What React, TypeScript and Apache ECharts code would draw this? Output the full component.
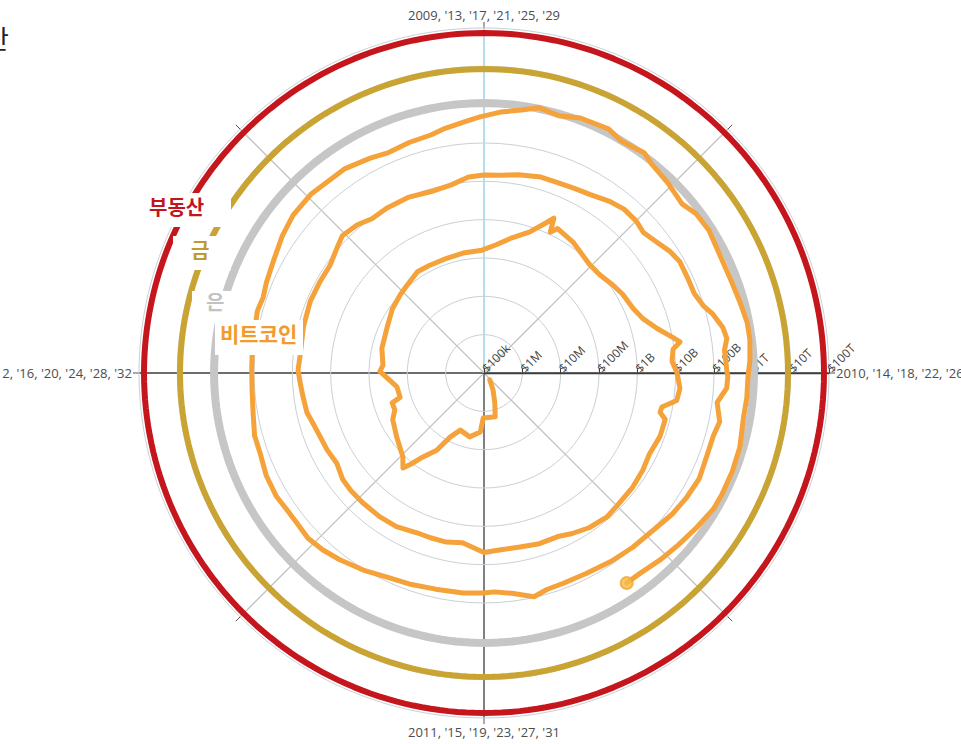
import React, { useEffect, useRef } from "react";
import * as echarts from "echarts";

// Angle axis: one full turn = 4 years (top = 2009, '13, ...)
const angleTickLabels = [
  "2009, '13, '17, '21, '25, '29",
  "2010, '14, '18, '22, '26, '30",
  "2011, '15, '19, '23, '27, '31",
  "2012, '16, '20, '24, '28, '32",
];
const radiusTickLabels = ["$100k", "$1M", "$10M", "$100M", "$1B", "$10B", "$100B", "$1T", "$10T", "$100T"];

// Reference asset market caps (USD)
const ringNames = ["부동산", "금", "은"];
const ringValues = [7.4e13, 8.5e12, 1.1e12];
const ringColors = ["#C4161C", "#C9A433", "#C6C6C6"];
const ringWidths = [6, 6, 8];

// Bitcoin market cap (USD) by decimal year
const btcYears = [
  2010.55, 2010.69, 2010.78, 2010.84, 2011.01, 2011.04, 2011.14, 2011.25, 2011.31, 2011.35,
  2011.4, 2011.43, 2011.45, 2011.49, 2011.6, 2011.7, 2011.75, 2011.8, 2011.82, 2011.9,
  2011.95, 2012.01, 2012.05, 2012.15, 2012.28, 2012.39, 2012.48, 2012.54, 2012.63, 2012.7,
  2012.8, 2012.89, 2012.99, 2013.06, 2013.13, 2013.2, 2013.25, 2013.27, 2013.28, 2013.3,
  2013.38, 2013.49, 2013.55, 2013.62, 2013.67, 2013.74, 2013.79, 2013.84, 2013.88, 2013.9,
  2013.92, 2013.96, 2014.0, 2014.05, 2014.09, 2014.12, 2014.14, 2014.16, 2014.22, 2014.29,
  2014.35, 2014.42, 2014.49, 2014.55, 2014.62, 2014.68, 2014.73, 2014.8, 2014.87, 2014.94,
  2015.0, 2015.08, 2015.14, 2015.2, 2015.25, 2015.33, 2015.4, 2015.48, 2015.54, 2015.59,
  2015.65, 2015.71, 2015.82, 2015.86, 2015.92, 2015.97, 2016.01, 2016.06, 2016.16, 2016.25,
  2016.32, 2016.39, 2016.45, 2016.49, 2016.55, 2016.6, 2016.66, 2016.74, 2016.82, 2016.89,
  2016.95, 2017.0, 2017.05, 2017.11, 2017.18, 2017.23, 2017.29, 2017.34, 2017.4, 2017.45,
  2017.5, 2017.54, 2017.59, 2017.63, 2017.67, 2017.72, 2017.77, 2017.81, 2017.84, 2017.88,
  2017.91, 2017.94, 2018.0, 2018.01, 2018.04, 2018.08, 2018.13, 2018.17, 2018.23, 2018.29,
  2018.35, 2018.41, 2018.48, 2018.55, 2018.62, 2018.7, 2018.77, 2018.82, 2018.86, 2018.92,
  2018.97, 2019.0, 2019.06, 2019.14, 2019.21, 2019.28, 2019.35, 2019.42, 2019.47, 2019.52,
  2019.57, 2019.61, 2019.66, 2019.72, 2019.78, 2019.83, 2019.89, 2019.95, 2020.01, 2020.07,
  2020.17, 2020.21, 2020.25, 2020.31, 2020.38, 2020.44, 2020.51, 2020.56, 2020.62, 2020.69,
  2020.74, 2020.8, 2020.86, 2020.9, 2020.95, 2020.99, 2021.04, 2021.09, 2021.13, 2021.18,
  2021.23, 2021.3, 2021.34, 2021.4, 2021.43, 2021.49, 2021.55, 2021.59, 2021.64, 2021.7,
  2021.77, 2021.83, 2021.88, 2021.92, 2021.97, 2022.01, 2022.06, 2022.11, 2022.18, 2022.24,
  2022.3, 2022.34, 2022.4, 2022.46, 2022.52, 2022.58, 2022.62,
];
const btcCaps = [
  1.7e5, 3.2e5, 6.8e5, 1.5e6, 1.5e6, 3.5e6, 5.1e6, 4.1e6, 7.8e6, 2.3e7,
  5.1e7, 1.1e8, 1.8e8, 1.1e8, 6.6e7, 4.7e7, 3.3e7, 3.3e7, 1.9e7, 2.0e7,
  2.9e7, 5.2e7, 4.4e7, 5.5e7, 6.2e7, 8.3e7, 9.8e7, 1.1e8, 1.45e8, 1.4e8,
  1.4e8, 1.5e8, 1.6e8, 2.3e8, 4.0e8, 7.4e8, 1.75e9, 2.7e9, 1.15e9, 1.7e9,
  1.35e9, 8.9e8, 9.1e8, 1.18e9, 1.44e9, 1.74e9, 2.4e9, 4.6e9, 1.0e10, 1.5e10,
  9.4e9, 8.2e9, 1.09e10, 1.34e10, 1.2e10, 5.3e9, 5.1e9, 7.6e9, 7.6e9, 6.4e9,
  7.2e9, 7.8e9, 7.9e9, 8.7e9, 7.6e9, 6.0e9, 4.8e9, 4.8e9, 4.3e9, 4.3e9,
  4.8e9, 2.9e9, 3.3e9, 3.3e9, 3.3e9, 4.1e9, 4.3e9, 4.3e9, 4.3e9, 4.1e9,
  3.2e9, 3.6e9, 4.5e9, 5.4e9, 5.8e9, 6.4e9, 7.1e9, 6.6e9, 7.3e9, 8.0e9,
  7.9e9, 8.0e9, 1.09e10, 1.4e10, 1.22e10, 9.4e9, 9.8e9, 9.8e9, 8.5e9, 9.6e9,
  1.34e10, 1.47e10, 1.5e10, 1.78e10, 2.1e10, 2.1e10, 2.3e10, 2.6e10, 3.5e10, 4.2e10,
  4.1e10, 3.5e10, 4.6e10, 6.2e10, 7.5e10, 7.3e10, 7.3e10, 9.6e10, 1.46e11, 2.2e11,
  2.5e11, 2.0e11, 2.2e11, 2.3e11, 2.2e11, 1.35e11, 1.9e11, 1.6e11, 1.6e11, 1.8e11,
  1.6e11, 1.37e11, 1.05e11, 9.5e10, 8.5e10, 7.4e10, 7.3e10, 7.6e10, 9.6e10, 6.2e10,
  5.2e10, 5.5e10, 5.8e10, 6.0e10, 6.8e10, 7.8e10, 1.07e11, 1.44e11, 1.75e11, 1.98e11,
  1.8e11, 1.8e11, 2.0e11, 1.9e11, 1.6e11, 1.6e11, 1.3e11, 1.17e11, 1.15e11, 1.2e11,
  1.35e11, 1.23e11, 1.4e11, 1.66e11, 2.3e11, 2.9e11, 3.1e11, 2.8e11, 2.8e11, 2.2e11,
  1.85e11, 2.1e11, 2.3e11, 2.9e11, 3.7e11, 4.8e11, 6.6e11, 8.5e11, 1.17e12, 9.8e11,
  1.29e12, 1.41e12, 1.08e12, 1.27e12, 9.8e11, 7.9e11, 6.2e11, 8.3e11, 8.9e11, 7.6e11,
  7.6e11, 8.5e11, 9.8e11, 9.8e11, 8.8e11, 7.7e11, 7.7e11, 7.4e11, 8.9e11, 9.3e11,
  9.3e11, 9.1e11, 7.2e11, 5.9e11, 5.0e11, 4.2e11, 4.2e11,
];

const BASE_YEAR = 2009;
// angle axis runs 1..5 starting at east (=2010), clockwise
const toAngle = (year: number) => {
  const a = (((year - BASE_YEAR) % 4) + 4) % 4;
  return a < 1 ? a + 4 : a;
};

const FONT = "'Open Sans', 'Noto Sans', sans-serif";
const KR = "'Noto Sans CJK KR', 'Noto Sans', sans-serif";

export default function App() {
  const ref = useRef<HTMLDivElement>(null);
  useEffect(() => {
    if (!ref.current) return;
    const chart = echarts.init(ref.current, null, { renderer: "svg" });

    const ringSamples: number[] = [];
    for (let i = 0; i <= 240; i++) ringSamples.push(1 + (4 * i) / 240);

    const ringSeries = ringValues.map((v, k) => ({
      name: ringNames[k],
      type: "line",
      coordinateSystem: "polar",
      showSymbol: false,
      silent: true,
      lineStyle: { color: ringColors[k], width: ringWidths[k] },
      data: ringSamples.map((a) => [v, a]),
      z: 2,
    }));

    const btcData = btcYears.map((y, i) => [btcCaps[i], toAngle(y)]);
    const last = btcData[btcData.length - 1];

    const option: any = {
      animation: false,
      backgroundColor: "#ffffff",
      polar: { center: [484, 373], radius: 345 },
      angleAxis: {
        type: "value",
        min: 1,
        max: 5,
        interval: 0.5,
        startAngle: 0,
        clockwise: true,
        axisLine: { show: false },
        axisTick: { show: true, length: 6, lineStyle: { color: "#555", width: 1 } },
        axisLabel: {
          margin: 7,
          color: "#4d4d4d",
          fontSize: 13,
          fontFamily: FONT,
          formatter: (v: number) =>
            Math.abs(v - Math.round(v)) < 1e-6 ? angleTickLabels[Math.round(v) % 4] : "",
        },
        splitLine: {
          show: true,
          lineStyle: {
            color: ["#3d3d3d", "#c4c4c4", "#3d3d3d", "#c4c4c4", "#3d3d3d", "#c4c4c4", "#8ecbea", "#c4c4c4"],
            width: 1.3,
          },
        },
      },
      radiusAxis: {
        type: "log",
        logBase: 10,
        min: 1e5,
        max: 1e14,
        splitNumber: 9,
        axisLine: { show: true, lineStyle: { color: "#3d3d3d", width: 1.3 } },
        axisTick: { show: true, length: 4, lineStyle: { color: "#3d3d3d" } },
        axisLabel: {
          rotate: 45,
          color: "#444",
          fontSize: 12,
          fontFamily: FONT,
          margin: 3,
          formatter: (v: number) => radiusTickLabels[Math.round(Math.log10(v)) - 5] || "",
        },
        splitLine: { show: true, lineStyle: { color: "#c9d0d7", width: 1 } },
        z: 1,
      },
      series: [
        ...ringSeries,
        {
          name: "비트코인",
          type: "line",
          coordinateSystem: "polar",
          showSymbol: false,
          silent: true,
          lineStyle: { color: "#F5A23A", width: 5, cap: "round", join: "round" },
          data: btcData,
          z: 3,
        },
        {
          name: "비트코인-끝",
          type: "scatter",
          coordinateSystem: "polar",
          symbol: "circle",
          symbolSize: 12,
          itemStyle: { color: "#F6BE45", borderColor: "#F0A535", borderWidth: 2 },
          data: [last],
          z: 4,
        },
      ],
      graphic: [
        { type: "text", x: -15, y: 24, style: { text: "산", fill: "#222", font: `26px ${KR}` } },
        { type: "rect", shape: { x: 143, y: 193, width: 88, height: 34 }, style: { fill: "#fff" }, z: 10 },
        { type: "text", x: 149, y: 196, z: 11, style: { text: "부동산", fill: "#C1141B", font: `bold 20px ${KR}` } },
        { type: "rect", shape: { x: 173, y: 236, width: 58, height: 34 }, style: { fill: "#fff" }, z: 10 },
        { type: "text", x: 191, y: 239, z: 11, style: { text: "금", fill: "#BF9A2E", font: `bold 20px ${KR}` } },
        { type: "rect", shape: { x: 192, y: 291, width: 54, height: 29 }, style: { fill: "#fff" }, z: 10 },
        { type: "text", x: 206, y: 291, z: 11, style: { text: "은", fill: "#C2C2C2", font: `bold 20px ${KR}` } },
        { type: "rect", shape: { x: 215, y: 320, width: 88, height: 35 }, style: { fill: "#fff" }, z: 10 },
        { type: "text", x: 220, y: 322, z: 11, style: { text: "비트코인", fill: "#F39A2C", font: `bold 21px ${KR}` } },
      ],
    };
    chart.setOption(option);
    return () => chart.dispose();
  }, []);
  return (
    <div
      ref={ref}
      style={{ position: "fixed", left: 0, top: 0, width: 961, height: 744, background: "#fff" }}
    />
  );
}
